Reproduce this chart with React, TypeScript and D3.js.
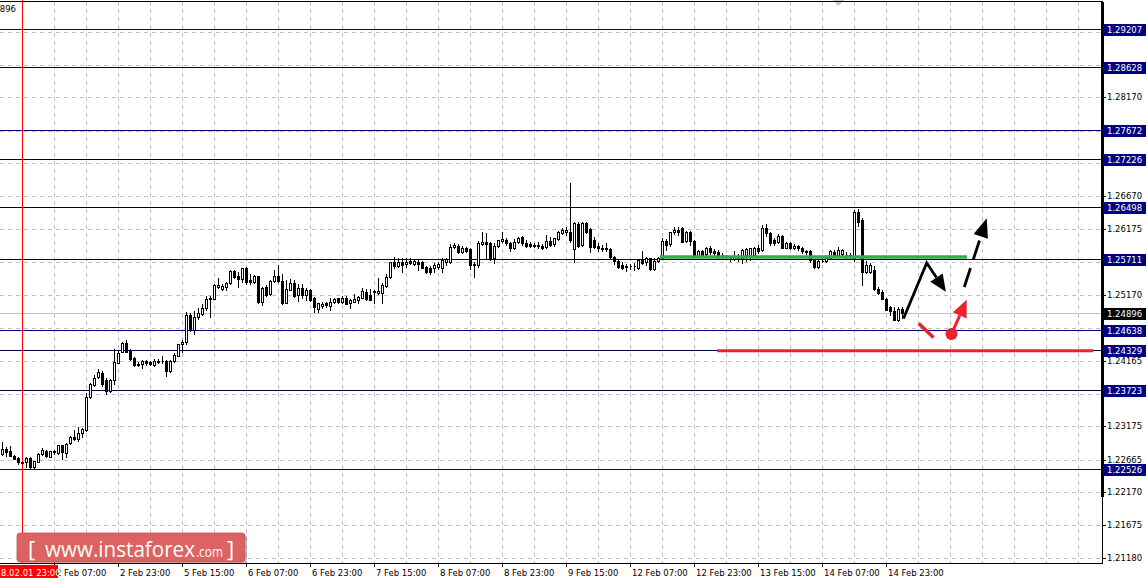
import React from "react";
import * as d3 from "d3";

// Hourly OHLC candles (bar 5 = 1 Feb 23:00)
const opens = [
  1.22753, 1.22829, 1.22794, 1.22727, 1.22697, 1.22627, 1.22627, 1.22693, 1.22556, 1.22632,
  1.22757, 1.22803, 1.22708, 1.22779, 1.22773, 1.22885, 1.22773, 1.22916, 1.23016, 1.22986,
  1.23077, 1.23122, 1.23619, 1.23806, 1.23918, 1.23983, 1.23877, 1.2371, 1.23882, 1.24139,
  1.24306, 1.24439, 1.24327, 1.2421, 1.24124, 1.24115, 1.24169, 1.2415, 1.24109, 1.2416,
  1.24169, 1.24165, 1.24014, 1.24169, 1.24245, 1.24419, 1.24458, 1.24859, 1.24636, 1.24833,
  1.24884, 1.24966, 1.25107, 1.25112, 1.25289, 1.25254, 1.25289, 1.25345, 1.25532, 1.25452,
  1.25411, 1.25578, 1.25391, 1.25361, 1.25452, 1.25066, 1.25284, 1.25178, 1.25375, 1.25456,
  1.2538, 1.25051, 1.25248, 1.2535, 1.25168, 1.25269, 1.25168, 1.25243, 1.25127, 1.24951,
  1.25001, 1.25042, 1.25005, 1.25057, 1.25118, 1.25066, 1.25122, 1.25042, 1.25066, 1.25087,
  1.25127, 1.25218, 1.25168, 1.25228, 1.25203, 1.25203, 1.25304, 1.25441, 1.25664, 1.25612,
  1.25664, 1.25633, 1.25684, 1.25633, 1.25673, 1.25664, 1.25597, 1.25573, 1.25573, 1.25588,
  1.25582, 1.25664, 1.25664, 1.25897, 1.25917, 1.25825, 1.25886, 1.25866, 1.25633, 1.25623,
  1.25938, 1.25968, 1.25953, 1.25734, 1.25917, 1.25992, 1.26003, 1.25953, 1.25877, 1.25968,
  1.26044, 1.25962, 1.25938, 1.25912, 1.25927, 1.25917, 1.25892, 1.25992, 1.25938, 1.26018,
  1.26105, 1.26129, 1.26129, 1.25871, 1.26246, 1.25922, 1.26266, 1.26166, 1.26003, 1.25912,
  1.25866, 1.25881, 1.25866, 1.25749, 1.25684, 1.25623, 1.25597, 1.25603, 1.25608, 1.25582,
  1.25699, 1.25664, 1.25725, 1.25562, 1.25684, 1.25725, 1.25988, 1.25938, 1.2612, 1.26155,
  1.26181, 1.25988, 1.2612, 1.25988, 1.25764, 1.25836, 1.25785, 1.25886, 1.25836, 1.25825,
  1.25775, 1.25749, 1.25725, 1.25714, 1.25764, 1.25725, 1.25775, 1.25764, 1.25775, 1.25877,
  1.25851, 1.2619, 1.26105, 1.26003, 1.25977, 1.26068, 1.25886, 1.25953, 1.25886, 1.25917,
  1.25886, 1.25836, 1.25836, 1.25699, 1.25597, 1.25684, 1.25684, 1.25734, 1.25825, 1.25775,
  1.25785, 1.25775, 1.25775, 1.25725, 1.26428, 1.26307, 1.25522, 1.25522, 1.25547, 1.25259,
  1.25218, 1.25107, 1.24986, 1.24925, 1.24788, 1.24955,
];
const highs = [
  1.22931, 1.22855, 1.22879, 1.22738, 1.22712, 1.22636, 1.22708, 1.22708, 1.22652, 1.22773,
  1.22844, 1.22819, 1.22799, 1.22814, 1.2289, 1.22894, 1.2292, 1.23031, 1.23122, 1.23159,
  1.23153, 1.23675, 1.23827, 1.23953, 1.24044, 1.24014, 1.23903, 1.23897, 1.24352, 1.24337,
  1.24449, 1.24479, 1.24347, 1.24231, 1.24154, 1.24185, 1.24185, 1.2416, 1.242, 1.24191,
  1.24236, 1.24175, 1.24175, 1.24286, 1.24428, 1.24484, 1.24914, 1.24899, 1.24929, 1.24975,
  1.25027, 1.25157, 1.25153, 1.2533, 1.25421, 1.2533, 1.25361, 1.25547, 1.25543, 1.25522,
  1.25582, 1.25593, 1.25482, 1.25471, 1.25461, 1.25289, 1.25319, 1.25391, 1.25547, 1.25623,
  1.25491, 1.25391, 1.25411, 1.25391, 1.2533, 1.25339, 1.25269, 1.25254, 1.25142, 1.25051,
  1.25066, 1.25066, 1.25118, 1.25127, 1.25127, 1.25153, 1.25157, 1.25107, 1.25178, 1.25157,
  1.25269, 1.25259, 1.25254, 1.25243, 1.25421, 1.25345, 1.25482, 1.25673, 1.25749, 1.25734,
  1.25725, 1.25725, 1.25725, 1.25699, 1.25699, 1.25684, 1.25612, 1.25612, 1.25649, 1.25673,
  1.25725, 1.25734, 1.25938, 1.25953, 1.25938, 1.25917, 1.25901, 1.25877, 1.25664, 1.25988,
  1.26129, 1.26105, 1.25977, 1.25953, 1.26003, 1.26129, 1.26029, 1.25977, 1.26018, 1.26053,
  1.26064, 1.26003, 1.25977, 1.25962, 1.25977, 1.25938, 1.26079, 1.26053, 1.26038, 1.2614,
  1.26181, 1.26205, 1.26864, 1.26277, 1.26277, 1.26277, 1.26281, 1.26181, 1.26053, 1.25953,
  1.25927, 1.25953, 1.25886, 1.25764, 1.25699, 1.25664, 1.25633, 1.25633, 1.25649, 1.25714,
  1.25836, 1.25749, 1.25734, 1.25725, 1.25749, 1.26038, 1.26018, 1.26129, 1.26205, 1.26205,
  1.26205, 1.2614, 1.2614, 1.26003, 1.25851, 1.25851, 1.25897, 1.25907, 1.25866, 1.25846,
  1.258, 1.25775, 1.25749, 1.25836, 1.25785, 1.25866, 1.25877, 1.25886, 1.25901, 1.25927,
  1.26231, 1.26241, 1.2612, 1.26029, 1.2609, 1.26079, 1.25977, 1.25977, 1.25938, 1.25927,
  1.25901, 1.25851, 1.25851, 1.25714, 1.25699, 1.25749, 1.25775, 1.25851, 1.25851, 1.25901,
  1.25866, 1.25816, 1.258, 1.26458, 1.26469, 1.26337, 1.25684, 1.25649, 1.25608, 1.25284,
  1.25243, 1.25118, 1.25001, 1.2499, 1.2498, 1.2499,
];
const lows = [
  1.22738, 1.22718, 1.22718, 1.22673, 1.22606, 1.22617, 1.22556, 1.22536, 1.22546, 1.22627,
  1.22738, 1.22712, 1.22708, 1.22757, 1.22757, 1.22677, 1.22712, 1.22905, 1.22961, 1.22951,
  1.23016, 1.23103, 1.23599, 1.23781, 1.23903, 1.23781, 1.2366, 1.23699, 1.23821, 1.2413,
  1.24297, 1.24297, 1.2418, 1.24089, 1.24089, 1.24064, 1.24104, 1.24104, 1.24094, 1.24139,
  1.24139, 1.23942, 1.23994, 1.24154, 1.24236, 1.24306, 1.24419, 1.24621, 1.2458, 1.24798,
  1.24864, 1.2494, 1.24838, 1.25103, 1.25269, 1.25239, 1.25248, 1.2533, 1.25431, 1.25294,
  1.2537, 1.2533, 1.2533, 1.2535, 1.25051, 1.25021, 1.25157, 1.25163, 1.25365, 1.2537,
  1.25031, 1.25041, 1.25239, 1.25138, 1.25072, 1.25127, 1.25092, 1.25077, 1.24914, 1.24914,
  1.24966, 1.2499, 1.2494, 1.25042, 1.25046, 1.25042, 1.25027, 1.24975, 1.25057, 1.25042,
  1.25118, 1.25092, 1.25087, 1.25042, 1.25178, 1.25042, 1.25294, 1.25421, 1.25582, 1.25597,
  1.25522, 1.25597, 1.25633, 1.25618, 1.25547, 1.25573, 1.25502, 1.25482, 1.25522, 1.25558,
  1.25512, 1.25623, 1.25649, 1.25886, 1.258, 1.258, 1.25816, 1.25562, 1.25446, 1.25597,
  1.25927, 1.25725, 1.25699, 1.25649, 1.25901, 1.25977, 1.25927, 1.25836, 1.25866, 1.25953,
  1.25927, 1.25901, 1.25897, 1.25901, 1.25886, 1.25866, 1.25877, 1.25917, 1.25917, 1.26003,
  1.2609, 1.26079, 1.25972, 1.25673, 1.25897, 1.25912, 1.26105, 1.25825, 1.25881, 1.25836,
  1.25836, 1.25836, 1.25734, 1.25633, 1.25582, 1.25562, 1.25532, 1.25562, 1.25547, 1.25562,
  1.25633, 1.25623, 1.25547, 1.25547, 1.25664, 1.25714, 1.25851, 1.25917, 1.2609, 1.26079,
  1.25968, 1.25968, 1.25927, 1.25749, 1.25749, 1.25749, 1.25764, 1.25795, 1.25775, 1.25734,
  1.25725, 1.25714, 1.25684, 1.25699, 1.25684, 1.25649, 1.25684, 1.25699, 1.25755, 1.258,
  1.25836, 1.26068, 1.25927, 1.25927, 1.25953, 1.25877, 1.25877, 1.25866, 1.25866, 1.25851,
  1.258, 1.25785, 1.25673, 1.25582, 1.25582, 1.25664, 1.25664, 1.25725, 1.25749, 1.25749,
  1.25749, 1.25725, 1.25725, 1.25684, 1.26216, 1.25319, 1.25497, 1.25497, 1.25243, 1.25183,
  1.25103, 1.2494, 1.24864, 1.24788, 1.24777, 1.24814,
];
const closes = [
  1.22825, 1.22788, 1.22723, 1.22677, 1.22627, 1.22621, 1.22688, 1.22561, 1.22642, 1.22757,
  1.22809, 1.22723, 1.22794, 1.22799, 1.22885, 1.22788, 1.2291, 1.23016, 1.22981, 1.23077,
  1.23133, 1.23619, 1.23816, 1.23903, 1.23999, 1.23812, 1.23705, 1.23882, 1.24146, 1.24291,
  1.24434, 1.24306, 1.242, 1.24104, 1.24104, 1.24165, 1.2413, 1.24119, 1.24165, 1.24154,
  1.2416, 1.24018, 1.24169, 1.24256, 1.24419, 1.24458, 1.24864, 1.24631, 1.24833, 1.24889,
  1.2497, 1.25103, 1.25118, 1.25315, 1.25319, 1.253, 1.25345, 1.25532, 1.25446, 1.25413,
  1.25573, 1.2537, 1.25361, 1.25452, 1.25066, 1.25269, 1.25168, 1.2538, 1.25452, 1.25375,
  1.25051, 1.25259, 1.2535, 1.25153, 1.25274, 1.25168, 1.25243, 1.25087, 1.2499, 1.25042,
  1.25031, 1.25016, 1.25066, 1.25112, 1.25066, 1.25122, 1.25036, 1.25097, 1.25107, 1.25138,
  1.25228, 1.25107, 1.25097, 1.25208, 1.25228, 1.25319, 1.25441, 1.25664, 1.25612, 1.25664,
  1.25623, 1.25673, 1.25649, 1.25684, 1.25633, 1.25582, 1.25512, 1.25512, 1.25623, 1.25633,
  1.25699, 1.25714, 1.25901, 1.25927, 1.25825, 1.25886, 1.25836, 1.25623, 1.25623, 1.25953,
  1.25968, 1.25947, 1.25734, 1.25917, 1.25998, 1.26013, 1.25953, 1.25877, 1.25977, 1.26029,
  1.25958, 1.25917, 1.25917, 1.25927, 1.25907, 1.25877, 1.25992, 1.25927, 1.26029, 1.2612,
  1.26155, 1.26155, 1.26003, 1.26257, 1.25912, 1.26257, 1.26129, 1.25901, 1.25897, 1.25877,
  1.25886, 1.25866, 1.25749, 1.25684, 1.25597, 1.25582, 1.25603, 1.25608, 1.25612, 1.25699,
  1.25649, 1.25725, 1.25562, 1.25684, 1.25725, 1.25988, 1.25927, 1.2612, 1.26155, 1.2612,
  1.25977, 1.2612, 1.25988, 1.25764, 1.25836, 1.25775, 1.25877, 1.25816, 1.258, 1.2576,
  1.2577, 1.25755, 1.2573, 1.25749, 1.25725, 1.25851, 1.25866, 1.25877, 1.25886, 1.25836,
  1.26181, 1.26105, 1.25953, 1.25953, 1.26068, 1.25886, 1.25953, 1.25886, 1.25917, 1.25877,
  1.25836, 1.25816, 1.25699, 1.25597, 1.25684, 1.25689, 1.25734, 1.25836, 1.25775, 1.25851,
  1.25851, 1.2577, 1.25749, 1.26433, 1.26281, 1.25522, 1.25623, 1.25623, 1.25254, 1.25203,
  1.25107, 1.24944, 1.24929, 1.24793, 1.24955, 1.24895,
];

const timeLabels = [
  "2 Feb 07:00", "2 Feb 23:00", "5 Feb 15:00", "6 Feb 07:00", "6 Feb 23:00", "7 Feb 15:00",
  "8 Feb 07:00", "8 Feb 23:00", "9 Feb 15:00", "12 Feb 07:00", "12 Feb 23:00", "13 Feb 15:00",
  "14 Feb 07:00", "14 Feb 23:00",
];
const timeLabelBars = [13, 29, 45, 61, 77, 93, 109, 125, 141, 157, 173, 189, 205, 221];

// grid levels of the price scale
const priceTicks = [
  1.2118, 1.21675, 1.2217, 1.22665, 1.23175, 1.2367, 1.24165, 1.24665, 1.2517, 1.25665,
  1.26175, 1.2667, 1.27165, 1.27665, 1.2817, 1.28665, 1.2916,
];
// scale labels that are not fully covered by the level boxes
const priceLabels = [
  1.2118, 1.21675, 1.2217, 1.22665, 1.23175, 1.2367, 1.24165, 1.2517, 1.25665,
  1.26175, 1.2667, 1.27165, 1.2817,
];
const levelValues = [1.29207, 1.28628, 1.27672, 1.27226, 1.26498, 1.25711, 1.24638, 1.24329, 1.23723, 1.22526];
const levelDark = [false, true, false, true, true, true, false, true, true, false];
const bidPrice = 1.24896;
const separatorBar = 5;
const separatorLabel = "8.02.01 23:00";

// Forecast annotation anchors: [bar, price]
const greenLevel = { from: 164.3, to: 241.1, price: 1.25745 };
const redLevel = { from: 178.6, to: 272.6, price: 1.2432 };
const blackPath = [[225.2, 1.24811], [231.0, 1.25654], [235.8, 1.25218]];
const dashedArrow = [[240.4, 1.25289], [246.0, 1.26332]];
const redStroke = [[229.0, 1.24735], [232.7, 1.24522]];
const redDot = [237.2, 1.24576];
const redArrowTip = [241.0, 1.25095];

export default function App() {
  const W = 1146, H = 583;
  const plotRight = 1102, plotTop = 1, plotBottom = 563;
  const y = d3.scaleLinear().domain([1.22526, 1.29207]).range([469, 29]);
  const x = d3.scaleLinear().domain([0, 1]).range([2.7, 6.7]);
  const col = (i: number) => Math.floor(x(i));
  const n = Math.min(opens.length, highs.length, lows.length, closes.length);
  const font = "'DejaVu Sans', Verdana, sans-serif";
  const fs = 8.5;

  const gridBars = d3.range(separatorBar, 300, 8).filter((b) => col(b) < plotRight);

  const arrowHead = (x0: number, y0: number, x1: number, y1: number, len: number, hw: number) => {
    const dx = x1 - x0, dy = y1 - y0;
    const d = Math.hypot(dx, dy);
    const ux = dx / d, uy = dy / d;
    const bx = x1 - ux * len, by = y1 - uy * len;
    return {
      pts: `${x1},${y1} ${bx - uy * hw},${by + ux * hw} ${bx + uy * hw},${by - ux * hw}`,
      bx, by,
    };
  };

  const bp = blackPath.map(([b, p]) => [x(b), y(p)]);
  const bHead = arrowHead(bp[1][0], bp[1][1], bp[2][0], bp[2][1], 17, 7.5);
  const da = dashedArrow.map(([b, p]) => [x(b), y(p)]);
  const dHead = arrowHead(da[0][0], da[0][1], da[1][0], da[1][1], 19, 7.5);
  const rd = [x(redDot[0]), y(redDot[1])];
  const rt = [x(redArrowTip[0]), y(redArrowTip[1])];
  const rHead = arrowHead(rd[0], rd[1], rt[0], rt[1], 17, 7.5);
  const rs = redStroke.map(([b, p]) => [x(b), y(p)]);

  return (
    <svg
      width={W}
      height={H}
      style={{ position: "absolute", left: 0, top: 0, display: "block", background: "#fff" }}
      fontFamily={font}
    >
      <rect x={0} y={0} width={W} height={H} fill="#fff" />
      {/* grid */}
      <g shapeRendering="crispEdges" stroke="#c0c0c0" strokeDasharray="4,4">
        {priceTicks.map((p) => (
          <line key={"h" + p} x1={0} x2={plotRight} y1={Math.round(y(p)) + 0.5} y2={Math.round(y(p)) + 0.5} />
        ))}
        {gridBars.map((b) => (
          <line key={"v" + b} x1={col(b) + 0.5} x2={col(b) + 0.5} y1={plotTop} y2={plotBottom} />
        ))}
      </g>
      {/* bid line */}
      <line x1={0} x2={plotRight} y1={Math.round(y(bidPrice)) + 0.5} y2={Math.round(y(bidPrice)) + 0.5} stroke="#c0c0c0" shapeRendering="crispEdges" />
      {/* levels */}
      <g shapeRendering="crispEdges">
        {levelValues.map((v, i) => (
          <line key={"l" + v} x1={0} x2={plotRight} y1={Math.round(y(v)) + 0.5} y2={Math.round(y(v)) + 0.5} stroke={levelDark[i] ? "#000040" : "#000080"} />
        ))}
      </g>
      {/* separator */}
      <line x1={col(separatorBar) + 0.5} x2={col(separatorBar) + 0.5} y1={0} y2={plotBottom} stroke="#ff0000" shapeRendering="crispEdges" />
      {/* candles */}
      <g shapeRendering="crispEdges">
        {d3.range(n).map((i) => {
          const o = opens[i], c = closes[i];
          const cx = col(i) + 0.5;
          const yt = Math.round(y(Math.max(o, c))) + 0.5;
          const yb = Math.round(y(Math.min(o, c))) + 0.5;
          const bull = c >= o;
          return (
            <g key={"c" + i}>
              <line x1={cx} x2={cx} y1={Math.round(y(highs[i]))} y2={Math.round(y(lows[i])) + 1} stroke="#000" />
              <path d={`M${cx - 1},${yt}H${cx + 1}V${yb}H${cx - 1}Z`} fill={bull ? "#fff" : "#000"} stroke="#000" />
            </g>
          );
        })}
      </g>
      {/* annotations */}
      <line x1={x(greenLevel.from)} x2={x(greenLevel.to)} y1={y(greenLevel.price)} y2={y(greenLevel.price)} stroke="#2fae4e" strokeWidth={3.5} />
      <line x1={x(redLevel.from)} x2={x(redLevel.to)} y1={y(redLevel.price)} y2={y(redLevel.price)} stroke="#e8232b" strokeWidth={3} />
      <polyline points={`${bp[0][0]},${bp[0][1]} ${bp[1][0]},${bp[1][1]} ${bHead.bx},${bHead.by}`} fill="none" stroke="#000" strokeWidth={2.8} strokeLinejoin="miter" />
      <polygon points={bHead.pts} fill="#000" />
      <line x1={da[0][0]} y1={da[0][1]} x2={dHead.bx} y2={dHead.by} stroke="#000" strokeWidth={2.8} strokeDasharray="20,9" />
      <polygon points={dHead.pts} fill="#000" />
      <line x1={rs[0][0]} y1={rs[0][1]} x2={rs[1][0]} y2={rs[1][1]} stroke="#e8232b" strokeWidth={3.5} />
      <line x1={rd[0]} y1={rd[1]} x2={rHead.bx} y2={rHead.by} stroke="#e8232b" strokeWidth={3} />
      <polygon points={rHead.pts} fill="#e8232b" />
      <circle cx={rd[0]} cy={rd[1]} r={6} fill="#e8232b" />
      {/* top marker */}
      <polygon points="833,0 844,0 838.5,6" fill="#c8c8c8" />
      {/* frame */}
      <g shapeRendering="crispEdges" stroke="#000">
        <line x1={0} x2={plotRight} y1={plotTop + 0.5} y2={plotTop + 0.5} />
        <line x1={0} x2={plotRight + 1} y1={plotBottom + 0.5} y2={plotBottom + 0.5} />
        <line x1={plotRight + 0.5} x2={plotRight + 0.5} y1={plotTop} y2={plotBottom} />
      </g>
      <rect x={plotRight - 1} y={2} width={3} height={495} fill="#000" shapeRendering="crispEdges" />
      {/* right axis ticks & labels */}
      <g fontSize={fs} fill="#000">
        {priceTicks.map((p) => (
          <line key={"tk" + p} x1={plotRight} x2={plotRight + 4} y1={Math.round(y(p)) + 0.5} y2={Math.round(y(p)) + 0.5} stroke="#000" shapeRendering="crispEdges" />
        ))}
        {priceLabels.map((p) => (
          <text key={"t" + p} x={1107} y={y(p)} dy="0.35em">{p.toFixed(5)}</text>
        ))}
      </g>
      <g fontSize={fs}>
        {levelValues.map((v) => (
          <g key={"b" + v}>
            <rect x={plotRight + 1} y={Math.round(y(v)) - 5} width={43} height={12} fill="#000080" shapeRendering="crispEdges" />
            <text x={1107} y={Math.round(y(v)) + 1} dy="0.35em" fill="#fff">{v.toFixed(5)}</text>
          </g>
        ))}
        <rect x={plotRight + 1} y={Math.round(y(bidPrice)) - 5} width={43} height={12} fill="#000" shapeRendering="crispEdges" />
        <text x={1107} y={Math.round(y(bidPrice)) + 1} dy="0.35em" fill="#fff">{bidPrice.toFixed(5)}</text>
      </g>
      {/* top-left price fragment */}
      <text x={16} y={9} dy="0.35em" fontSize={fs} textAnchor="end" fill="#000">{bidPrice.toFixed(5)}</text>
      {/* bottom axis */}
      <g fontSize={fs} fill="#000">
        {timeLabelBars.map((b, i) => (
          <g key={"x" + b}>
            <line x1={col(b) + 0.5} x2={col(b) + 0.5} y1={plotBottom} y2={plotBottom + 4} stroke="#000" shapeRendering="crispEdges" />
            <text x={col(b) + 2} y={576}>{timeLabels[i]}</text>
          </g>
        ))}
      </g>
      <rect x={0} y={565} width={58} height={13} fill="#ff0000" shapeRendering="crispEdges" />
      <text x={1} y={575.5} fontSize={fs} fill="#fff">{separatorLabel}</text>
      {/* watermark */}
      <g>
        <rect x={19} y={535} width={228} height={29} rx={3} fill="rgba(0,0,0,0.18)" />
        <rect x={17} y={533} width={228} height={29} rx={3} fill="#dd6262" stroke="#c85050" strokeWidth={0.8} />
        <g fill="#fff" fontFamily="'Open Sans', 'Noto Sans', sans-serif">
          <text x={28} y={557} fontSize={22}>[</text>
          <text x={45} y={557} fontSize={22} textLength={150} lengthAdjust="spacingAndGlyphs">www.instaforex</text>
          <text x={196} y={557} fontSize={15} textLength={27} lengthAdjust="spacingAndGlyphs">.com</text>
          <text x={227} y={557} fontSize={22}>]</text>
        </g>
      </g>
    </svg>
  );
}
